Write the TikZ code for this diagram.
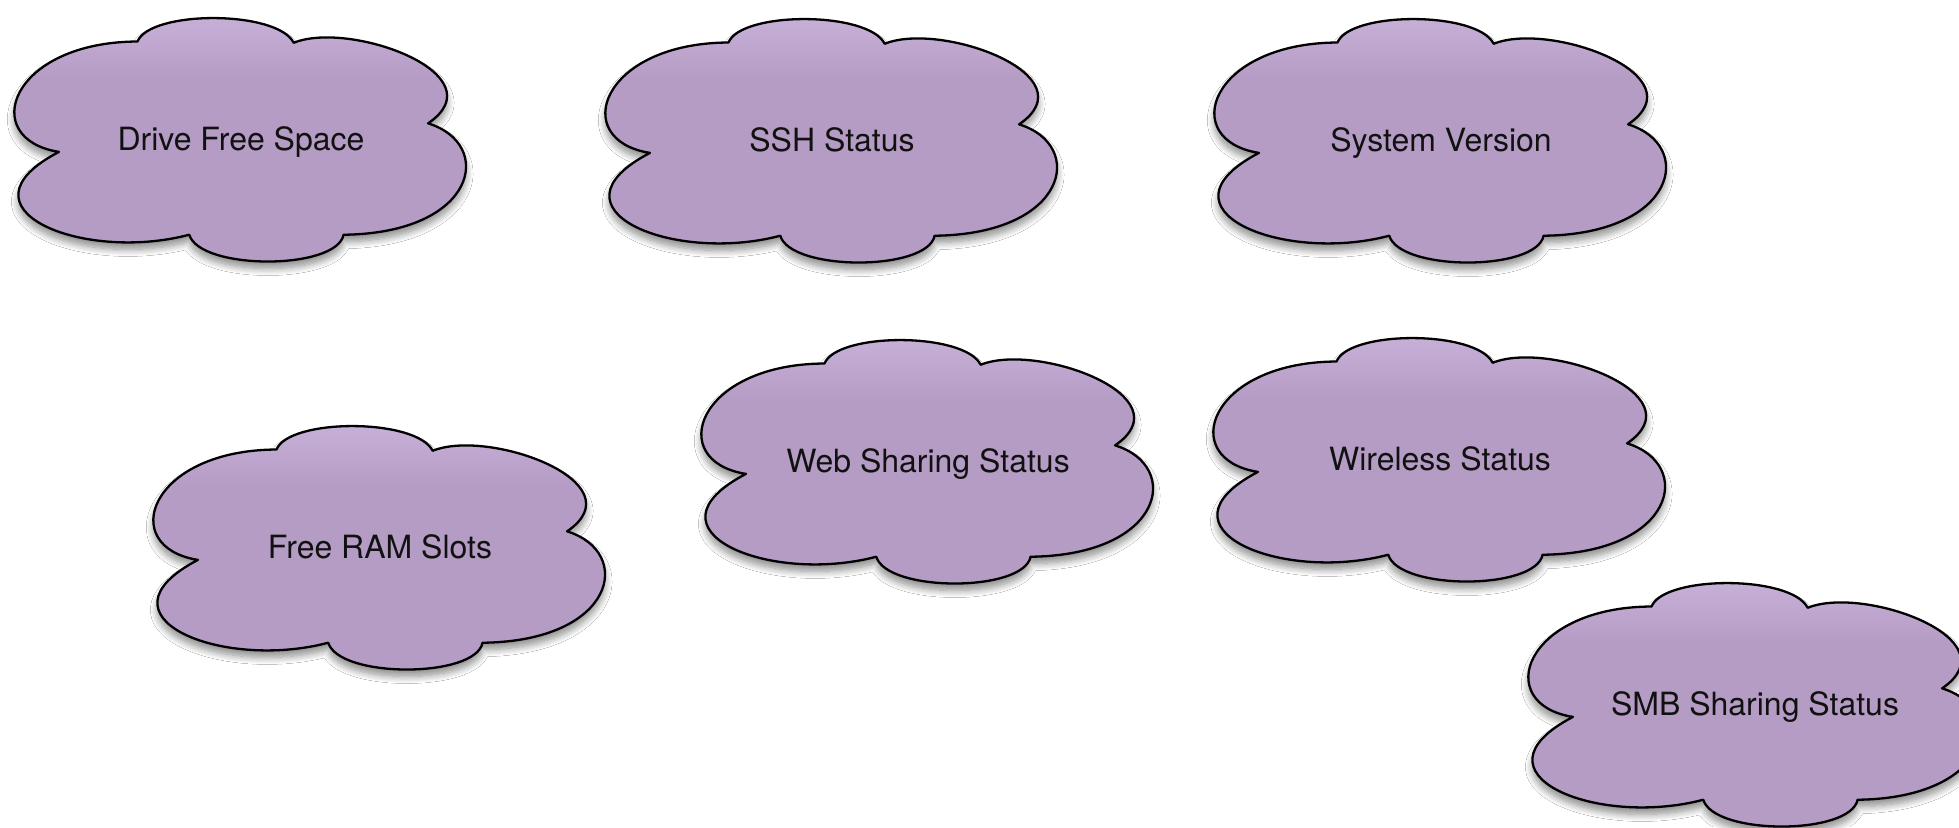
\documentclass[tikz,border=0pt]{standalone}
\usepackage{fontspec}
\setmainfont{TeX Gyre Heros}
\usetikzlibrary{shadows.blur}
\definecolor{cloudbase}{HTML}{B59CC4}
\definecolor{cloudtop}{HTML}{C9B2DA}
\definecolor{txt}{HTML}{111111}
\pgfdeclareverticalshading{cloudshade}{100bp}{color(0bp)=(cloudbase); color(25bp)=(cloudbase); color(62bp)=(cloudbase); color(75bp)=(cloudtop); color(100bp)=(cloudtop)}
\tikzset{
  cloudstyle/.style={draw=black, line width=2.3pt, line join=round,
    shading=cloudshade,
    blur shadow={shadow xshift=0pt, shadow yshift=-7pt, shadow blur radius=7pt, shadow opacity=45, shadow blur steps=10}},
  cloudtext/.style={text=txt, inner sep=0pt, anchor=base, yshift=-11.5pt, font=\fontsize{32}{38}\selectfont}
}
\newcommand\mycloud[6]{%
  \begin{scope}[shift={(#2,#3)},xscale=#4,yscale=#5]
    \path[cloudstyle] (0.272,0.107)
      .. controls (0.30,-0.02) and (0.58,-0.02) .. (0.616,0.112)
      .. controls (0.74,0.02) and (1.07,0.24) .. (0.912,0.437)
      .. controls (1.06,0.52) and (1.02,0.88) .. (0.726,0.886)
      .. controls (0.71,1.03) and (0.41,1.03) .. (0.386,0.886)
      .. controls (0.15,1.0) and (-0.14,0.78) .. (0.099,0.552)
      .. controls (-0.08,0.50) and (-0.01,0.11) .. cycle;
    \node[cloudtext] (#1) at (0.5,0.5) {#6};
  \end{scope}}
\begin{document}
\begin{tikzpicture}[x=1pt,y=-1pt]
\fill[white] (0,0) rectangle (1959,827);
\useasboundingbox (0,0) rectangle (1959,827);
\mycloud{drive}{14}{15}{454}{248}{Drive Free Space}
\mycloud{ssh}{605}{16}{454}{248}{SSH Status}
\mycloud{sysver}{1214}{16}{454}{248}{System Version}
\mycloud{ram}{153}{423}{454}{248}{Free RAM Slots}
\mycloud{web}{701}{337}{454}{248}{Web Sharing Status}
\mycloud{wifi}{1213}{335}{454}{248}{Wireless Status}
\mycloud{smb}{1528}{580}{454}{248}{SMB Sharing Status}
\end{tikzpicture}
\end{document}
